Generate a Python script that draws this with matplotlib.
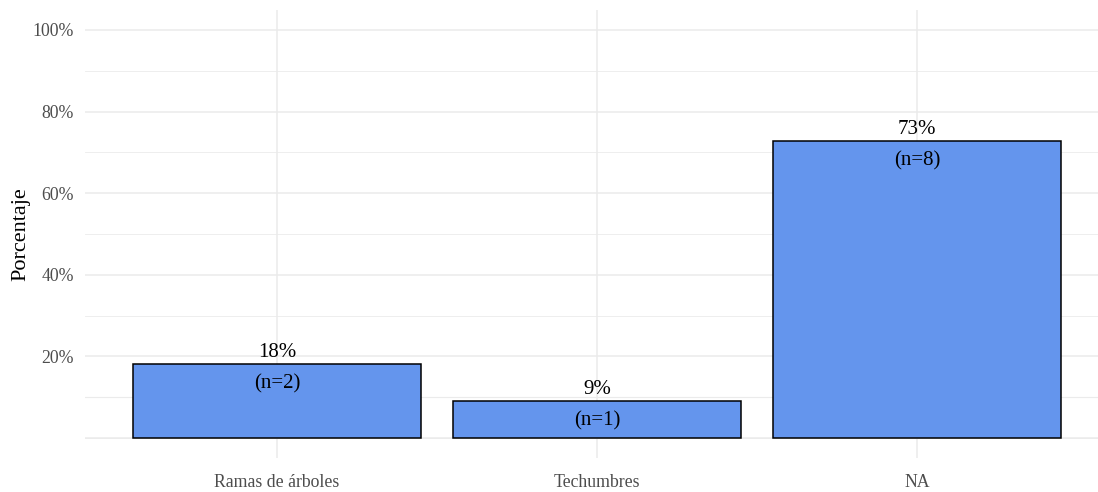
import numpy as np
import matplotlib
matplotlib.use("Agg")
import matplotlib.pyplot as plt
from matplotlib.ticker import MultipleLocator, FuncFormatter

plt.rcParams['font.family'] = ['Liberation Serif', 'DejaVu Serif']

# data
categories = ['Ramas de árboles', 'Techumbres', 'NA']
percents = [18.18, 9.09, 72.73]
counts = [2, 1, 8]

fig = plt.figure(figsize=(10.98, 4.92), dpi=100)
W, H = 1098.0, 492.0
left, right, top, bottom = 85, 1098, 9.6, 458.4
ax = fig.add_axes([left / W, 1 - bottom / H, (right - left) / W, (bottom - top) / H])

x = np.arange(1, len(categories) + 1)
ax.bar(x, percents, width=0.9, color='#6495ED', edgecolor='black', linewidth=1.1, zorder=3)

for xi, p, n in zip(x, percents, counts):
    ax.annotate('%d%%' % round(p), (xi, p), xytext=(0, 1.5), textcoords='offset points',
                ha='center', va='bottom', fontsize=15, color='black', zorder=4)
    ax.annotate('(n=%d)' % n, (xi, p), xytext=(0, -7.5), textcoords='offset points',
                ha='center', va='top', fontsize=15, color='black', zorder=4)

ax.set_xlim(0.4, 0.4 + (right - left) / 320.0)
ax.set_ylim(-5, 105)
ax.set_xticks(x)
ax.set_xticklabels(categories)
ax.set_yticks([20, 40, 60, 80, 100])
ax.yaxis.set_major_formatter(FuncFormatter(lambda v, pos: '%d%%' % v))
ax.yaxis.set_minor_locator(MultipleLocator(10))

ax.grid(True, which='major', color='#ebebeb', linewidth=1.1, zorder=0)
ax.grid(True, which='minor', axis='y', color='#ebebeb', linewidth=0.6, zorder=0)
# ggplot draws the 0 and 10 lines as part of the grid
ax.axhline(0, color='#ebebeb', linewidth=1.1, zorder=0)
ax.axhline(10, color='#ebebeb', linewidth=0.8, zorder=0)

for s in ax.spines.values():
    s.set_visible(False)
ax.tick_params(which='both', length=0, labelsize=12.8, labelcolor='#4d4d4d')
ax.tick_params(axis='x', pad=11)
ax.tick_params(axis='y', pad=8)
ax.set_ylabel('Porcentaje', fontsize=16, color='black')
ax.yaxis.set_label_coords(-0.054, 0.5)

fig.savefig('out.png', dpi=100)
